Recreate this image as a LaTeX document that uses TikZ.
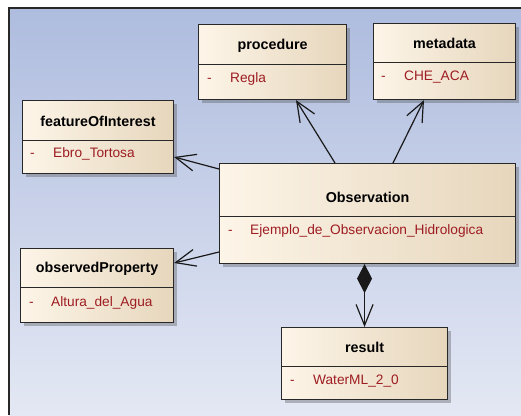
\documentclass[tikz,border=0pt]{standalone}
\usepackage{fontspec}
\setmainfont{Liberation Sans}
\usetikzlibrary{arrows.meta,shadows}
\definecolor{bgtop}{RGB}{174,188,222}
\definecolor{bgbot}{RGB}{228,232,244}
\definecolor{boxl}{RGB}{253,245,232}
\definecolor{boxr}{RGB}{230,214,188}
\definecolor{attrc}{RGB}{158,28,34}
\definecolor{edgec}{RGB}{40,40,40}
\begin{document}
\begin{tikzpicture}[x=1pt,y=-1pt,
  umlbox/.style={draw=edgec, line width=1.1pt, left color=boxl, right color=boxr,
    anchor=north west, inner sep=0pt,
    drop shadow={shadow xshift=3.5pt, shadow yshift=-3.5pt, opacity=0.35, fill=black!70}},
  divider/.style={draw=edgec, line width=1pt},
  hdr/.style={font=\bfseries\fontsize{14.3}{16}\selectfont, inner sep=0pt, anchor=mid, yshift=-2pt},
  attr/.style={font=\fontsize{13.7}{16}\selectfont, text=attrc, anchor=mid west, inner sep=0pt, yshift=-2pt},
  assoc/.style={draw=black!90, line width=1.2pt,
    -{Straight Barb[length=20pt,width=17pt,line width=1.2pt]}},
  compo/.style={draw=black!90, line width=1.2pt,
    {Diamond[length=29pt,width=15pt]}-{Straight Barb[length=21pt,width=17pt,line width=1.2pt]}},
]
\useasboundingbox (0,0) rectangle (521,415);
\fill[white] (0,0) rectangle (521,415);
\shade[top color=bgtop, bottom color=bgbot] (9,8) rectangle (521,415);
\draw[edgec, line width=1.2pt] (9,415) -- (9,8) -- (521,8);

% boxes
\node[umlbox, minimum width=148, minimum height=75] (proc) at (198,24) {};
\node[umlbox, minimum width=142, minimum height=76] (meta) at (373,23) {};
\node[umlbox, minimum width=151, minimum height=73] (foi) at (22,100) {};
\node[umlbox, minimum width=296, minimum height=100] (obs) at (219,163) {};
\node[umlbox, minimum width=153, minimum height=74] (op) at (20,248) {};
\node[umlbox, minimum width=166, minimum height=72] (res) at (281,327) {};

% dividers
\draw[divider] (proc.west |- 0,64) -- (proc.east |- 0,64);
\draw[divider] (meta.west |- 0,62) -- (meta.east |- 0,62);
\draw[divider] (foi.west |- 0,140) -- (foi.east |- 0,140);
\draw[divider] (obs.west |- 0,216) -- (obs.east |- 0,216);
\draw[divider] (op.west |- 0,287) -- (op.east |- 0,287);
\draw[divider] (res.west |- 0,366) -- (res.east |- 0,366);

% headers
\node[hdr] (proch) at (proc.north |- 0,45) {procedure};
\node[hdr] (metah) at (meta.north |- 0,44) {metadata};
\node[hdr] (foih) at (foi.north |- 0,122) {featureOfInterest};
\node[hdr] (obsh) at (obs.north |- 0,198) {Observation};
\node[hdr] (oph) at (op.north |- 0,268) {observedProperty};
\node[hdr] (resh) at (res.north |- 0,348) {result};

% attributes
\node[attr] (procd) at (207,78) {-};
\node[attr] (proca) at (230,78) {Regla};
\node[attr] (metad) at (381,76) {-};
\node[attr] (metaa) at (404,76) {CHE\_ACA};
\node[attr] (foid) at (30,153) {-};
\node[attr] (foia) at (53,153) {Ebro\_Tortosa};
\node[attr] (obsd) at (228,230) {-};
\node[attr] (obsa) at (250,230) {Ejemplo\_de\_Observacion\_Hidrologica};
\node[attr] (opd) at (29,302) {-};
\node[attr] (opa) at (51,302) {Altura\_del\_Agua};
\node[attr] (resd) at (290,380) {-};
\node[attr] (resa) at (313,380) {WaterML\_2\_0};

% connectors
\draw[assoc] (obs.north -| 335,0) -- (proc.south -| 296,0);
\draw[assoc] (obs.north -| 393,0) -- (meta.south -| 424,0);
\draw[assoc] (obs.west |- 0,169) -- (foi.east |- 0,157);
\draw[assoc] (obs.west |- 0,252) -- (op.east |- 0,263);
\draw[compo] (res.north |- obs.south) -- (res.north);
\end{tikzpicture}
\end{document}
